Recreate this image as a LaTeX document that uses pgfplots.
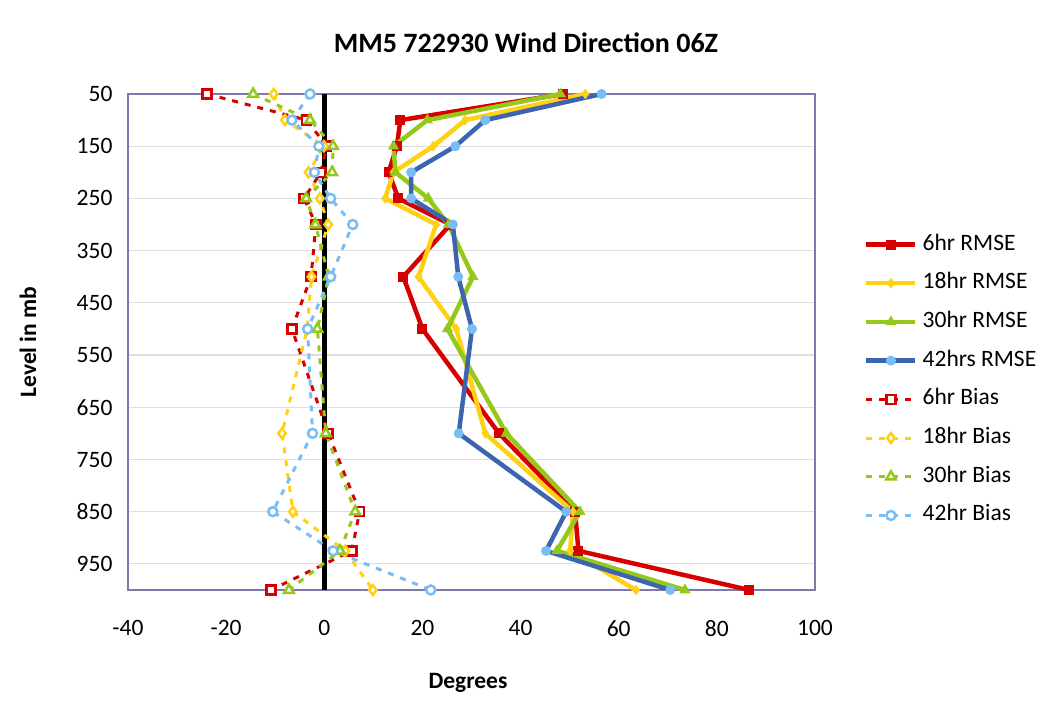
\documentclass[border=0pt]{standalone}
\usepackage{pgfplots}
\pgfplotsset{compat=1.18}
\usepackage{fontspec}
\setmainfont{Carlito}
\definecolor{cRed}{RGB}{214,0,0}
\definecolor{cYel}{RGB}{255,208,20}
\definecolor{cGrn}{RGB}{150,200,25}
\definecolor{cBlu}{RGB}{60,100,175}
\definecolor{cLBl}{RGB}{120,190,245}
\definecolor{cFrame}{RGB}{128,120,170}
\definecolor{cGrid}{RGB}{222,222,222}
\newcommand{\tf}{\fontsize{23.5}{27}\selectfont}
\begin{document}
\begin{tikzpicture}
\path[use as bounding box] (0,0) rectangle (1046pt,711pt);
\begin{axis}[
  at={(128pt,121pt)}, anchor=south west,
  scale only axis, width=687pt, height=496pt,
  xmin=-40, xmax=100, ymin=50, ymax=1000,
  y dir=reverse,
  xtick={-40,-20,...,100},
  ytick={50,150,...,950},
  major tick length=0pt,
  ymajorgrids, grid style={cGrid, line width=1.2pt},
  axis line style={cFrame, line width=2pt},
  /pgf/number format/assume math mode=true,
  ticklabel style={font=\tf},
  xticklabel style={anchor=north, yshift=-27pt},
  yticklabel style={anchor=east, xshift=-12pt},
  clip=false,
  legend cell align=left,
  legend style={draw=none, fill=none, inner sep=0pt,
    at={(1.0713,0.4234)}, anchor=west,
    font=\tf, row sep=19.7pt, column sep=5pt,
    nodes={inner sep=0pt, text height=15pt, text depth=4pt}},
  legend image code/.code={\draw[mark repeat=2,mark phase=2,#1] plot coordinates {(0pt,0pt)(24.5pt,0pt)(49pt,0pt)};},
]
\addplot[black, line width=5pt, forget plot] coordinates {(0,50) (0,1000)};

\addplot[cRed, line width=4.5pt, mark=square*, mark size=4.5pt, mark options={solid, fill=cRed, line width=1pt}] coordinates {
(48.7,50) (15.5,100) (14.8,150) (13.1,200) (15.1,250) (25.7,300) (16.1,400) (20.0,500) (35.6,700) (51.1,850) (51.8,925) (86.6,1000)};
\addlegendentry{6hr RMSE}
\addplot[cYel, line width=4.5pt, mark=diamond*, mark size=4.5pt, mark options={solid, fill=cYel, line width=1pt}] coordinates {
(53.2,50) (28.7,100) (22.2,150) (14.1,200) (12.4,250) (22.8,300) (19.2,400) (26.9,500) (32.8,700) (50.7,850) (50.1,925) (63.5,1000)};
\addlegendentry{18hr RMSE}
\addplot[cGrn, line width=4.5pt, mark=triangle*, mark size=5.5pt, mark options={solid, fill=cGrn, line width=1pt}] coordinates {
(48.1,50) (21.0,100) (14.1,150) (14.5,200) (21.2,250) (25.3,300) (30.3,400) (25.1,500) (37.1,700) (52.1,850) (47.4,925) (73.5,1000)};
\addlegendentry{30hr RMSE}
\addplot[cBlu, line width=4.5pt, mark=*, mark size=4.5pt, mark options={solid, draw=cLBl, fill=cLBl, line width=1pt}] coordinates {
(56.5,50) (32.8,100) (26.7,150) (17.7,200) (17.7,250) (26.2,300) (27.3,400) (30.1,500) (27.4,700) (49.3,850) (45.2,925) (70.5,1000)};
\addlegendentry{42hrs RMSE}

\addplot[cRed, line width=3pt, dash pattern=on 6pt off 7pt, mark=square*, mark size=4.5pt, mark options={solid, fill=white, line width=2.5pt}] coordinates {
(-23.9,50) (-3.6,100) (0.5,150) (-0.7,200) (-4.1,250) (-1.7,300) (-2.7,400) (-6.6,500) (0.8,700) (7.2,850) (5.6,925) (-10.9,1000)};
\addlegendentry{6hr Bias}
\addplot[cYel, line width=3pt, dash pattern=on 6pt off 7pt, mark=diamond*, mark size=5pt, mark options={solid, fill=white, line width=2.5pt}] coordinates {
(-10.3,50) (-8.0,100) (-0.1,150) (-3.2,200) (-0.9,250) (0.8,300) (-2.6,400) (-3.5,500) (-8.6,700) (-6.4,850) (4.3,925) (9.9,1000)};
\addlegendentry{18hr Bias}
\addplot[cGrn, line width=3pt, dash pattern=on 6pt off 7pt, mark=triangle*, mark size=5.5pt, mark options={solid, fill=white, line width=2.5pt}] coordinates {
(-14.5,50) (-2.9,100) (1.8,150) (1.6,200) (-3.7,250) (-1.8,300) (0.9,400) (-1.4,500) (0.3,700) (6.3,850) (3.2,925) (-7.2,1000)};
\addlegendentry{30hr Bias}
\addplot[cLBl, line width=3pt, dash pattern=on 6pt off 7pt, mark=*, mark size=4.5pt, mark options={solid, fill=white, line width=2.5pt}] coordinates {
(-2.9,50) (-6.6,100) (-1.1,150) (-2.0,200) (1.3,250) (5.8,300) (1.3,400) (-3.4,500) (-2.4,700) (-10.5,850) (1.8,925) (21.7,1000)};
\addlegendentry{42hr Bias}
\end{axis}
\node[font=\fontsize{28}{32}\selectfont\bfseries] at (526pt,668pt) {MM5 722930 Wind Direction 06Z};
\node[font=\tf\bfseries] at (468pt,28pt) {Degrees};
\node[font=\tf\bfseries, rotate=90] at (28pt,369pt) {Level in mb};
\end{tikzpicture}
\end{document}
